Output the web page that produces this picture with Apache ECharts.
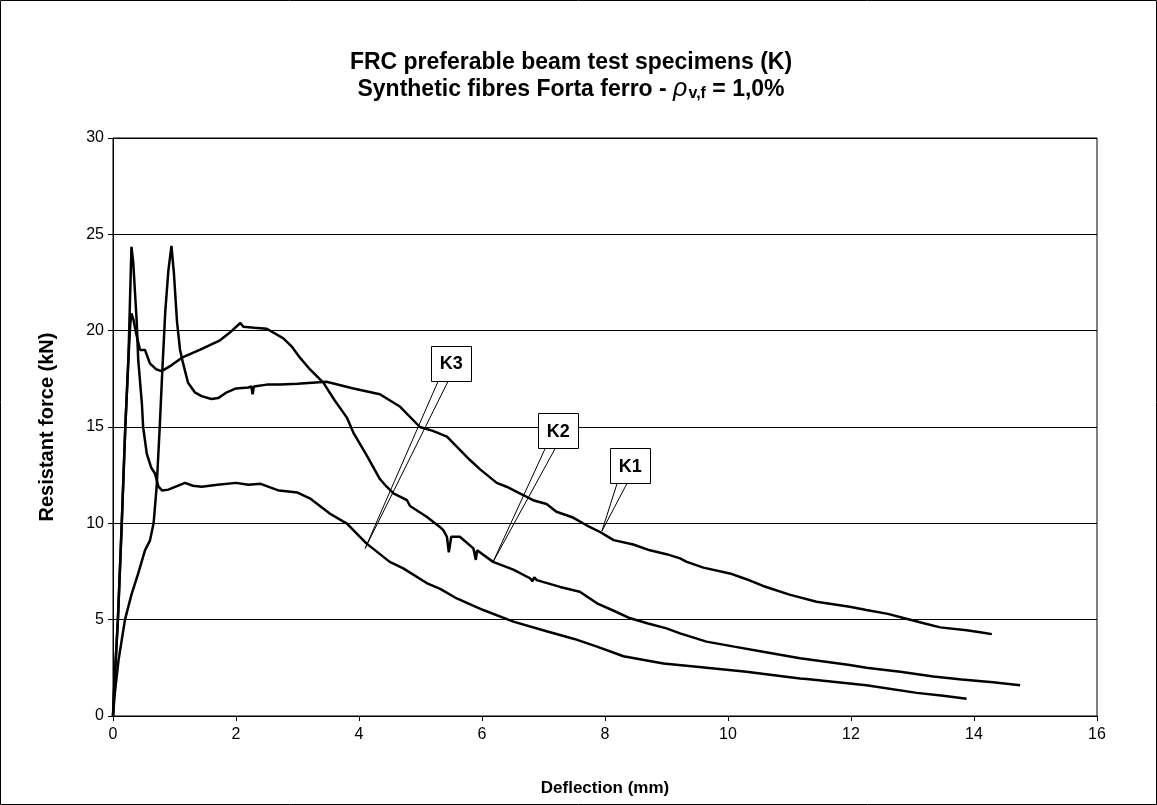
<!DOCTYPE html>
<html>
<head>
<meta charset="utf-8">
<script src="https://cdn.jsdelivr.net/npm/echarts@6/dist/echarts.min.js"></script>
<style>
  html, body { margin: 0; padding: 0; background: #fff; }
  #chart { width: 1157px; height: 805px; }
</style>
</head>
<body>
<div id="chart"></div>
<script>
// ---- Data (deflection mm, resistant force kN) ----
const K1 = [[0,0],[0.03,1.2],[0.09,2.9],[0.195,5.0],[0.3,6.3],[0.41,7.4],[0.52,8.6],[0.6,9.1],[0.66,10.0],[0.71,11.9],[0.76,15.0],[0.8,17.8],[0.85,21.0],[0.9,23.1],[0.95,24.4],[0.99,23.0],[1.04,20.5],[1.09,19.0],[1.14,18.3],[1.22,17.3],[1.33,16.8],[1.44,16.6],[1.6,16.45],[1.71,16.5],[1.85,16.8],[2.0,17.0],[2.2,17.05],[2.25,17.1],[2.27,16.7],[2.29,17.1],[2.5,17.2],[2.72,17.2],[3.0,17.25],[3.47,17.35],[3.91,17.0],[4.34,16.7],[4.67,16.05],[4.99,15.0],[5.2,14.8],[5.43,14.5],[5.8,13.3],[5.97,12.8],[6.24,12.1],[6.4,11.9],[6.67,11.47],[6.83,11.2],[7.05,11.0],[7.21,10.6],[7.48,10.3],[7.7,9.9],[7.92,9.55],[8.14,9.13],[8.46,8.9],[8.73,8.6],[9.0,8.4],[9.22,8.18],[9.33,8.0],[9.6,7.7],[10.03,7.4],[10.3,7.1],[10.57,6.75],[11.0,6.3],[11.44,5.93],[11.98,5.67],[12.25,5.5],[12.6,5.3],[12.9,5.05],[13.2,4.8],[13.45,4.6],[13.88,4.45],[14.1,4.35],[14.29,4.25]];
const K2 = [[0,0],[0.02,1.5],[0.08,5.0],[0.14,9.8],[0.2,15.0],[0.25,18.5],[0.28,20.3],[0.3,20.9],[0.33,20.6],[0.38,19.8],[0.44,19.0],[0.47,18.9],[0.52,19.0],[0.55,18.9],[0.6,18.3],[0.7,18.0],[0.79,17.9],[0.95,18.2],[1.12,18.6],[1.41,19.0],[1.74,19.5],[1.9,19.9],[2.07,20.4],[2.12,20.2],[2.3,20.15],[2.5,20.1],[2.77,19.6],[2.9,19.2],[3.04,18.6],[3.2,18.0],[3.42,17.3],[3.6,16.4],[3.8,15.5],[3.91,14.7],[4.13,13.5],[4.34,12.3],[4.45,11.9],[4.56,11.55],[4.78,11.2],[4.83,10.9],[5.1,10.34],[5.32,9.8],[5.37,9.65],[5.43,9.3],[5.46,8.5],[5.48,8.4],[5.5,9.3],[5.53,9.3],[5.64,9.3],[5.86,8.7],[5.9,8.1],[5.92,8.6],[6.18,8.0],[6.51,7.6],[6.78,7.15],[6.82,7.0],[6.85,7.2],[6.89,7.05],[7.27,6.7],[7.59,6.45],[7.87,5.85],[8.15,5.45],[8.41,5.07],[8.7,4.8],[9.0,4.55],[9.22,4.29],[9.65,3.86],[10.1,3.6],[10.57,3.34],[11.17,3.0],[11.98,2.65],[12.25,2.5],[12.8,2.3],[13.34,2.05],[13.8,1.9],[14.31,1.75],[14.75,1.6]];
const K3 = [[0,0],[0.02,1.5],[0.08,5.0],[0.14,9.8],[0.2,15.0],[0.25,18.5],[0.28,22.0],[0.3,24.35],[0.33,23.5],[0.385,20.5],[0.41,18.5],[0.47,16.2],[0.49,15.0],[0.55,13.6],[0.62,12.9],[0.68,12.6],[0.74,11.9],[0.8,11.7],[0.9,11.75],[1.17,12.1],[1.3,11.95],[1.44,11.9],[1.7,12.0],[2.0,12.1],[2.2,12.0],[2.4,12.05],[2.7,11.7],[3.0,11.6],[3.2,11.3],[3.53,10.5],[3.74,10.1],[3.8,10.0],[4.12,8.96],[4.5,8.0],[4.72,7.66],[5.1,6.9],[5.32,6.6],[5.59,6.1],[6.02,5.5],[6.51,4.9],[7.05,4.4],[7.5,4.0],[7.87,3.6],[8.3,3.1],[8.95,2.73],[9.49,2.56],[10.3,2.3],[11.17,1.95],[11.28,1.92],[12.25,1.6],[13.07,1.2],[13.5,1.05],[13.88,0.9]];

// Callout labels: name, tip point (data coords), box centre (data coords)
const labelNames = ['K1', 'K2', 'K3'];
const labelTips = [[7.95, 9.6], [6.18, 8.0], [4.1, 8.7]];
const labelBoxes = [[8.41, 13.0], [7.24, 14.8], [5.5, 18.3]];

const titleLine1 = 'FRC preferable beam test specimens (K)';
const xName = 'Deflection (mm)';
const yName = 'Resistant force (kN)';

const FONT = '"Liberation Sans", Arial, sans-serif';
const chart = echarts.init(document.getElementById('chart'), null, { renderer: 'canvas' });

const lineStyle = { color: '#000', width: 2.5 };
const mkLine = (name, data) => ({
  name, type: 'line', data, showSymbol: false, symbol: 'none', smooth: false,
  lineStyle, itemStyle: { color: '#000' }, z: 3, animation: false
});

const calloutData = labelNames.map((n, i) => [labelTips[i][0], labelTips[i][1], labelBoxes[i][0], labelBoxes[i][1]]);

chart.setOption({
  animation: false,
  backgroundColor: '#fff',
  title: {
    text: titleLine1 + '\n{b|Synthetic fibres Forta ferro - }{rho|ρ}{sub|v,f}{b| = 1,0%}',
    left: 566,
    top: 44,
    textAlign: 'center',
    textStyle: {
      fontFamily: FONT, fontWeight: 'bold', fontSize: 23, color: '#000', lineHeight: 27,
      rich: {
        b: { fontFamily: FONT, fontWeight: 'bold', fontSize: 23, color: '#000', lineHeight: 27 },
        rho: { fontFamily: FONT, fontStyle: 'italic', fontWeight: 'normal', fontSize: 25, color: '#000', lineHeight: 27 },
        sub: { fontFamily: FONT, fontWeight: 'bold', fontSize: 16, color: '#000', lineHeight: 27, padding: [9, 0, 0, 1] }
      }
    }
  },
  graphic: [{
    type: 'rect', shape: { x: 0.5, y: 0.5, width: 1156, height: 804 },
    style: { fill: 'none', stroke: '#000', lineWidth: 1 }, silent: true, z: 100
  }],
  grid: { left: 113, right: 60, top: 138, bottom: 89, show: true, borderColor: '#000', borderWidth: 1, backgroundColor: 'transparent' },
  xAxis: {
    type: 'value', min: 0, max: 16, interval: 2,
    name: xName, nameLocation: 'middle', nameGap: 64,
    nameTextStyle: { fontFamily: FONT, fontWeight: 'bold', fontSize: 17, color: '#000' },
    axisLine: { show: true, onZero: false, lineStyle: { color: '#000', width: 1 } },
    axisTick: { show: true, inside: false, length: 5, lineStyle: { color: '#000' } },
    axisLabel: { fontFamily: FONT, fontSize: 16, color: '#000', margin: 11 },
    splitLine: { show: false }
  },
  yAxis: {
    type: 'value', min: 0, max: 30, interval: 5,
    name: yName, nameLocation: 'middle', nameGap: 56,
    nameTextStyle: { fontFamily: FONT, fontWeight: 'bold', fontSize: 20, color: '#000' },
    axisLine: { show: true, onZero: false, lineStyle: { color: '#000', width: 1 } },
    axisTick: { show: true, inside: false, length: 5, lineStyle: { color: '#000' } },
    axisLabel: { fontFamily: FONT, fontSize: 16, color: '#000', margin: 9 },
    splitLine: { show: true, lineStyle: { color: '#000', width: 1 } }
  },
  series: [
    mkLine('K1', K1),
    mkLine('K2', K2),
    mkLine('K3', K3),
    {
      type: 'custom', name: 'labels', data: calloutData, z: 10, silent: true, animation: false,
      renderItem: function (params, api) {
        const tip = api.coord([api.value(0), api.value(1)]);
        const box = api.coord([api.value(2), api.value(3)]);
        const w = 40, h = 35;
        return {
          type: 'group',
          children: [
            { type: 'polygon', shape: { points: [[box[0] - 13, box[1] + h / 2], [tip[0], tip[1]], [box[0] - 3, box[1] + h / 2]] },
              style: { fill: 'none', stroke: '#000', lineWidth: 1 } },
            { type: 'rect', shape: { x: Math.round(box[0] - w / 2) + 0.5, y: Math.round(box[1] - h / 2) + 0.5, width: w, height: h },
              style: { fill: '#fff', stroke: '#000', lineWidth: 1 } },
            { type: 'text', style: { text: labelNames[params.dataIndex], x: box[0], y: box[1] + 1, align: 'center', verticalAlign: 'middle',
              font: 'bold 18px ' + FONT, fill: '#000' } }
          ]
        };
      }
    }
  ]
});
</script>
</body>
</html>
